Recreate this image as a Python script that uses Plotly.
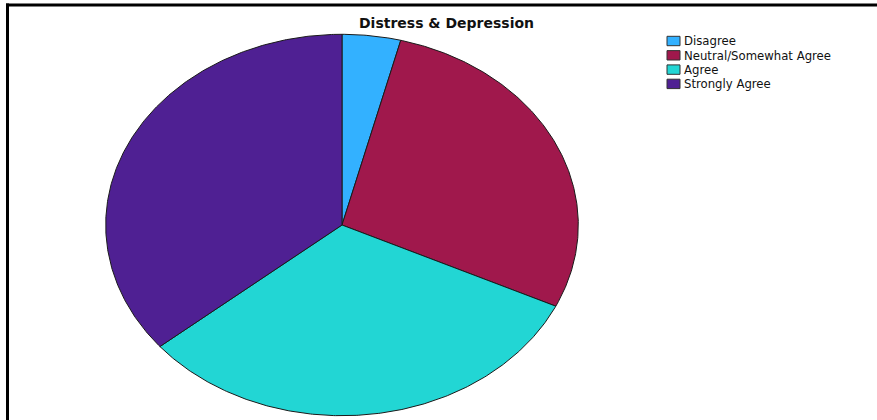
import numpy as np
import plotly.graph_objects as go

# Survey responses: "Distress & Depression"
categories = ["Disagree", "Neutral/Somewhat Agree", "Agree", "Strongly Agree"]
counts = [2, 14, 16, 18]
colors = ["#33B1FF", "#A0184C", "#22D6D4", "#4F2093"]

W, H = 877, 420
# pie centre / radii in pixels (the pie is stretched into an ellipse)
CX, CY, RX, RY = 342, 225, 236.3, 190.7

fig = go.Figure()

total = sum(counts)
start = 0.0
for name, val, col in zip(categories, counts, colors):
    sweep = 360.0 * val / total
    ang = np.radians(np.linspace(start, start + sweep, max(int(sweep * 2), 8)))
    xs = np.concatenate([[0.0], np.sin(ang), [0.0]])
    ys = np.concatenate([[0.0], np.cos(ang), [0.0]])
    fig.add_trace(go.Scatter(
        x=xs, y=ys, mode="lines", fill="toself", fillcolor=col,
        line=dict(color="#1a1a1a", width=1), name=name,
        hoverinfo="text", text=f"{name}: {val}", showlegend=False,
    ))
    start += sweep

# hand-placed legend, tight row spacing
leg_x0, leg_y0, step = 667, 41, 14.3
for i, (name, col) in enumerate(zip(categories, colors)):
    yc = leg_y0 + i * step
    fig.add_shape(type="rect", xref="paper", yref="paper",
                  x0=leg_x0 / W, x1=(leg_x0 + 13) / W,
                  y0=1 - (yc + 4.7) / H, y1=1 - (yc - 4.7) / H,
                  fillcolor=col, line=dict(color="#333333", width=1))
    fig.add_annotation(xref="paper", yref="paper", x=(leg_x0 + 15) / W,
                       y=1 - (yc + 0.5) / H, text=name, showarrow=False,
                       xanchor="left", yanchor="middle",
                       font=dict(family="DejaVu Sans", size=11.7, color="#111111"))

# frame lines along top and left edges
fig.add_shape(type="line", xref="paper", yref="paper",
              x0=6 / W, x1=1, y0=1 - 5 / H, y1=1 - 5 / H,
              line=dict(color="black", width=3))
fig.add_shape(type="line", xref="paper", yref="paper",
              x0=7.5 / W, x1=7.5 / W, y0=1 - 3.5 / H, y1=0,
              line=dict(color="black", width=3))

fig.update_layout(
    width=W, height=H, autosize=False,
    margin=dict(l=0, r=0, t=0, b=0),
    paper_bgcolor="white", plot_bgcolor="white",
    title=dict(text="<b>Distress & Depression</b>", x=446.5 / W, y=1 - 23 / H,
               xanchor="center", yanchor="middle",
               font=dict(family="DejaVu Sans", size=14, color="#111111")),
    xaxis=dict(range=[-CX / RX, (W - CX) / RX], visible=False, fixedrange=True),
    yaxis=dict(range=[-(H - CY) / RY, CY / RY], visible=False, fixedrange=True),
    showlegend=False,
)

fig.write_html("out.html")
